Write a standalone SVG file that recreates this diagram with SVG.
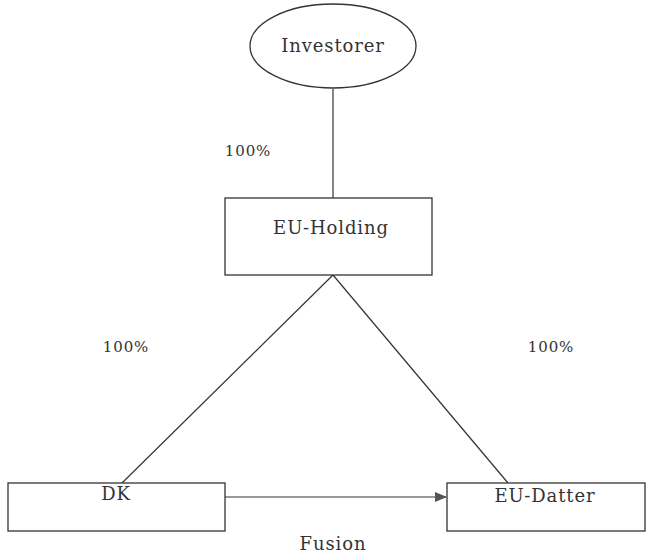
<svg xmlns="http://www.w3.org/2000/svg" width="651" height="553" viewBox="0 0 651 553">
<defs>
<marker id="arr" markerWidth="12" markerHeight="10" refX="11" refY="5" orient="auto" markerUnits="userSpaceOnUse">
<path d="M0,0 L12,5 L0,10 Z" fill="#555"/>
</marker>
<style>
.shape{fill:#fff;stroke:#333;stroke-width:1.3}
.line{stroke:#333;stroke-width:1.2;fill:none}
text{font-family:"DejaVu Serif","Liberation Serif",serif;font-size:18px;fill:#333;letter-spacing:0.9px}
.lbl{font-size:15px}
</style>
</defs>
<rect width="651" height="553" fill="#fff"/>
<g id="connectors">
<line class="line" x1="333" y1="89" x2="333" y2="198"/>
<line class="line" x1="333" y1="275" x2="122" y2="483"/>
<line class="line" x1="333" y1="275" x2="508" y2="483"/>
<line class="line" x1="225" y1="497" x2="446" y2="497" stroke="#555" marker-end="url(#arr)"/>
<text class="lbl" x="248" y="156" text-anchor="middle">100%</text>
<text class="lbl" x="126" y="352" text-anchor="middle">100%</text>
<text class="lbl" x="551" y="352" text-anchor="middle">100%</text>
<text x="333" y="550" text-anchor="middle">Fusion</text>
</g>
<g id="investorer">
<ellipse class="shape" cx="333" cy="46" rx="83" ry="42"/>
<text x="333" y="52" text-anchor="middle">Investorer</text>
</g>
<g id="eu-holding">
<rect class="shape" x="225" y="198" width="207" height="77"/>
<text x="331" y="234" text-anchor="middle">EU-Holding</text>
</g>
<g id="dk">
<rect class="shape" x="8" y="483" width="217" height="48"/>
<text x="116" y="500" text-anchor="middle">DK</text>
</g>
<g id="eu-datter">
<rect class="shape" x="447" y="483" width="198" height="48"/>
<text x="545" y="502" text-anchor="middle">EU-Datter</text>
</g>
</svg>
